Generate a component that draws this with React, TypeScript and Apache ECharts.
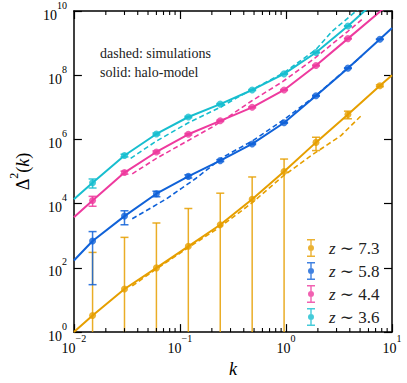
import React, { useEffect, useRef } from 'react';
import * as echarts from 'echarts';

const SERIF = 'Liberation Serif, DejaVu Serif, serif';

const seriesNames = ['z ∼ 7.3', 'z ∼ 5.8', 'z ∼ 4.4', 'z ∼ 3.6'];
const seriesColors = ['#E69F00', '#1062D8', '#EE3A9E', '#17BECF'];

const X_MIN = 0.01;
const X_MAX = 10;
const Y_MIN = 1;
const Y_MAX = 1e10;

// measured k bins
const kBins = [0.015, 0.03, 0.06, 0.12, 0.24, 0.48, 0.96, 1.92, 3.84, 7.68];

// measured power spectra (points) and 1-sigma errors
const obs73 = [3.3, 22, 100, 470, 2200, 13800, 1.0e5, 8.1e5, 6.0e6, 4.7e7];
const err73 = [300, 870, 2400, 6600, 19000, 54000, 1.45e5, 3.6e5, 1.6e6, 3.0e6];
const obs58 = [690, 4100, 20400, 70800, 2.19e5, 7.24e5, 3.31e6, 2.29e7, 1.66e8, 1.32e9];
const err58 = [660, 1900, 4000, 8000, 15000, 30000, 1.2e5, 7e5, 4e6, 2.5e7];
const obs44 = [12600, 93000, 4.07e5, 1.45e6, 3.8e6, 1.0e7, 3.47e7, 2.0e8, 1.38e9];
const err44 = [4300, 10000, 30000, 80000, 1.8e5, 4e5, 1.2e6, 6e6, 4e7];
const obs36 = [44700, 3.16e5, 1.48e6, 5.0e6, 1.26e7, 3.47e7, 1.1e8, 5.1e8, 3.4e9];
const err36 = [14000, 30000, 1e5, 2.5e5, 5e5, 1.2e6, 3e6, 1.2e7, 8e7];

// halo-model curves (solid)
const haloK = [0.01, 0.015, 0.03, 0.06, 0.12, 0.24, 0.48, 0.96, 1.92, 3.84, 7.68, 10];
const halo73 = [1.0, 3.3, 22, 100, 470, 2200, 13800, 1.0e5, 8.1e5, 6.0e6, 4.7e7, 1.0e8];
const halo58 = [170, 690, 4100, 20400, 70800, 2.19e5, 7.24e5, 3.31e6, 2.29e7, 1.66e8, 1.32e9, 2.95e9];
const halo44 = [3800, 12600, 93000, 4.07e5, 1.45e6, 3.8e6, 1.0e7, 3.47e7, 2.0e8, 1.38e9, 9.5e9, 2.0e10];
const halo36 = [13800, 44700, 3.16e5, 1.48e6, 5.0e6, 1.26e7, 3.47e7, 1.1e8, 5.1e8, 3.4e9, 2.7e10, 6e10];

// simulation curves (dashed)
const sim73K = [0.0355, 0.06, 0.12, 0.24, 0.48, 0.93, 1.75, 3.3, 5.2];
const sim73 = [27.5, 93, 427, 1900, 10700, 70800, 3.24e5, 1.32e6, 5.75e6];
const sim58K = [0.0355, 0.0738, 0.105, 0.143, 0.258, 0.48, 0.97, 1.92, 3.84, 5.2];
const sim58 = [3390, 13800, 30900, 63100, 2.88e5, 8.9e5, 4.27e6, 2.34e7, 1.7e8, 4.0e8];
const sim44K = [0.0355, 0.06, 0.12, 0.2, 0.28, 0.47, 0.93, 1.87, 3.84, 5.2];
const sim44 = [8.5e4, 2.57e5, 9.3e5, 2.4e6, 4.8e6, 1.55e7, 6.3e7, 3.39e8, 2.34e9, 5.4e9];
const sim36K = [0.0343, 0.06, 0.12, 0.24, 0.34, 0.96, 1.92, 2.73, 4.6, 5.2];
const sim36 = [2.57e5, 8.9e5, 3.3e6, 1.0e7, 1.95e7, 1.2e8, 6.3e8, 2.34e9, 1.0e10, 1.4e10];

// minor tick positions on the k axis
const minorK = [0.02, 0.03, 0.04, 0.05, 0.06, 0.07, 0.08, 0.09, 0.2, 0.3, 0.4, 0.5, 0.6, 0.7, 0.8, 0.9, 2, 3, 4, 5, 6, 7, 8, 9];

const groups = [
  { obs: obs73, err: err73, halo: halo73, simK: sim73K, sim: sim73 },
  { obs: obs58, err: err58, halo: halo58, simK: sim58K, sim: sim58 },
  { obs: obs44, err: err44, halo: halo44, simK: sim44K, sim: sim44 },
  { obs: obs36, err: err36, halo: halo36, simK: sim36K, sim: sim36 },
];

const LEGEND_ICON =
  'path://M0,0H8V1.4H4.7V16.6H8V18H0V16.6H3.3V1.4H0Z M1,9A3,3 0 1,1 7,9A3,3 0 1,1 1,9Z';

function powLabel(v: number) {
  const e = Math.round(Math.log10(v));
  const s = e < 0 ? '−' + Math.abs(e) : String(e);
  return `{b|10}{e|${s}}`;
}

const labelRich = {
  b: { fontFamily: SERIF, fontSize: 14, color: '#000', lineHeight: 22, verticalAlign: 'bottom' },
  e: { fontFamily: SERIF, fontSize: 10, color: '#000', lineHeight: 11, verticalAlign: 'top' },
};

function errorBarSeries(idx: number) {
  const color = seriesColors[idx];
  const g = groups[idx];
  return {
    type: 'custom',
    xAxisIndex: 0,
    yAxisIndex: 0,
    clip: true,
    silent: true,
    z: 3,
    encode: { x: 0, y: 1 },
    data: g.obs.map((v, i) => [kBins[i], v, g.err[i]]),
    renderItem: (_params: any, api: any) => {
      const k = api.value(0);
      const v = api.value(1);
      const s = api.value(2);
      const hi = v + s;
      const lo = v - s;
      const hasLo = lo > Y_MIN;
      const top = api.coord([k, hi]);
      const bot = api.coord([k, hasLo ? lo : Y_MIN]);
      const cap = 4;
      const style = { stroke: color, lineWidth: 1.5, opacity: 0.85 };
      const children: any[] = [
        { type: 'line', shape: { x1: top[0], y1: top[1], x2: bot[0], y2: bot[1] }, style },
        { type: 'line', shape: { x1: top[0] - cap, y1: top[1], x2: top[0] + cap, y2: top[1] }, style },
      ];
      if (hasLo) {
        children.push({ type: 'line', shape: { x1: bot[0] - cap, y1: bot[1], x2: bot[0] + cap, y2: bot[1] }, style });
      }
      return { type: 'group', children };
    },
  };
}

function buildOption() {
  const series: any[] = [];
  groups.forEach((g, idx) => {
    const color = seriesColors[idx];
    series.push(errorBarSeries(idx));
    series.push({
      type: 'scatter',
      name: seriesNames[idx],
      data: g.obs.map((v, i) => [kBins[i], v]),
      symbol: 'circle',
      symbolSize: 7,
      itemStyle: { color },
      z: 4,
      silent: true,
    });
    series.push({
      type: 'line',
      data: haloK.map((k, i) => [k, g.halo[i]]),
      showSymbol: false,
      symbol: 'none',
      lineStyle: { color, width: 2 },
      z: 2,
      silent: true,
    });
    series.push({
      type: 'line',
      data: g.simK.map((k, i) => [k, g.sim[i]]),
      showSymbol: false,
      symbol: 'none',
      lineStyle: { color, width: 1.6, type: [5, 3] },
      z: 2,
      silent: true,
    });
  });

  // minor ticks (log axis)
  series.push({
    type: 'custom',
    xAxisIndex: 0,
    yAxisIndex: 0,
    silent: true,
    z: 5,
    encode: { x: 0 },
    data: minorK.map((k) => [k]),
    renderItem: (_p: any, api: any) => {
      const k = api.value(0);
      const b = api.coord([k, Y_MIN]);
      const t = api.coord([k, Y_MAX]);
      const style = { stroke: '#000', lineWidth: 1.1 };
      return {
        type: 'group',
        children: [
          { type: 'line', shape: { x1: b[0], y1: b[1], x2: b[0], y2: b[1] - 4 }, style },
          { type: 'line', shape: { x1: t[0], y1: t[1], x2: t[0], y2: t[1] + 4 }, style },
        ],
      };
    },
  });

  const axisLine = { show: true, lineStyle: { color: '#000', width: 1.5 } };
  const axisTick = { show: true, inside: true, length: 8, lineStyle: { color: '#000', width: 1.2 } };

  return {
    animation: false,
    backgroundColor: '#fff',
    grid: { left: 61, top: 11, width: 331, height: 328, containLabel: false },
    xAxis: [
      {
        type: 'log',
        logBase: 10,
        min: X_MIN,
        max: X_MAX,
        position: 'bottom',
        axisLine,
        axisTick,
        splitLine: { show: false },
        axisLabel: { show: true, margin: 1, formatter: powLabel, rich: labelRich, showMinLabel: true, showMaxLabel: true },
        name: 'k',
        nameLocation: 'middle',
        nameGap: 19,
        nameTextStyle: { fontFamily: SERIF, fontStyle: 'italic', fontSize: 18, color: '#000' },
      },
      {
        type: 'log',
        logBase: 10,
        min: X_MIN,
        max: X_MAX,
        position: 'top',
        axisLine,
        axisTick,
        splitLine: { show: false },
        axisLabel: { show: false },
      },
    ],
    yAxis: [
      {
        type: 'log',
        logBase: 100,
        min: Y_MIN,
        max: Y_MAX,
        position: 'left',
        axisLine,
        axisTick,
        splitLine: { show: false },
        axisLabel: { show: true, margin: 7, formatter: powLabel, rich: labelRich, showMinLabel: true, showMaxLabel: true },
        name: '{t|Δ}{s|2}{t|(}{i|k}{t|)}',
        nameLocation: 'middle',
        nameGap: 33,
        nameTextStyle: {
          color: '#000',
          rich: {
            t: { fontFamily: SERIF, fontSize: 18, color: '#000', lineHeight: 24, verticalAlign: 'bottom' },
            i: { fontFamily: SERIF, fontSize: 18, fontStyle: 'italic', color: '#000', lineHeight: 24, verticalAlign: 'bottom' },
            s: { fontFamily: SERIF, fontSize: 12, color: '#000', lineHeight: 14, verticalAlign: 'top' },
          },
        },
      },
      {
        type: 'log',
        logBase: 100,
        min: Y_MIN,
        max: Y_MAX,
        position: 'right',
        axisLine,
        axisTick,
        splitLine: { show: false },
        axisLabel: { show: false },
      },
    ],
    legend: {
      data: seriesNames.map((n) => ({ name: n, icon: LEGEND_ICON })),
      orient: 'vertical',
      left: 302,
      top: 234,
      itemWidth: 8,
      itemHeight: 18,
      itemGap: 5,
      selectedMode: false,
      formatter: (name: string) => `{i|z} {r|∼ ${name.split(' ').pop()}}`,
      textStyle: {
        fontFamily: SERIF,
        fontSize: 17,
        color: '#222',
        lineHeight: 18,
        padding: [0, 0, 0, 9],
        rich: {
          i: { fontFamily: SERIF, fontSize: 17, fontStyle: 'italic', color: '#222', lineHeight: 18 },
          r: { fontFamily: SERIF, fontSize: 17, color: '#222', lineHeight: 18 },
        },
      },
    },
    graphic: [
      {
        type: 'text',
        x: 100,
        y: 53,
        style: {
          text: 'dashed: simulations',
          fontFamily: SERIF,
          fontSize: 14,
          fill: '#222',
          textAlign: 'left',
          textVerticalAlign: 'middle',
          align: 'left',
          verticalAlign: 'middle',
        },
      },
      {
        type: 'text',
        x: 100,
        y: 72,
        style: {
          text: 'solid: halo-model',
          fontFamily: SERIF,
          fontSize: 14,
          fill: '#222',
          textAlign: 'left',
          textVerticalAlign: 'middle',
          align: 'left',
          verticalAlign: 'middle',
        },
      },
    ],
    series,
  };
}

export default function App() {
  const ref = useRef<HTMLDivElement>(null);
  useEffect(() => {
    if (!ref.current) return;
    const chart = echarts.init(ref.current, undefined, { renderer: 'svg' });
    chart.setOption(buildOption() as any);
    return () => chart.dispose();
  }, []);
  return (
    <div
      ref={ref}
      style={{ position: 'absolute', left: 0, top: 0, width: 407, height: 383, background: '#fff' }}
    />
  );
}
